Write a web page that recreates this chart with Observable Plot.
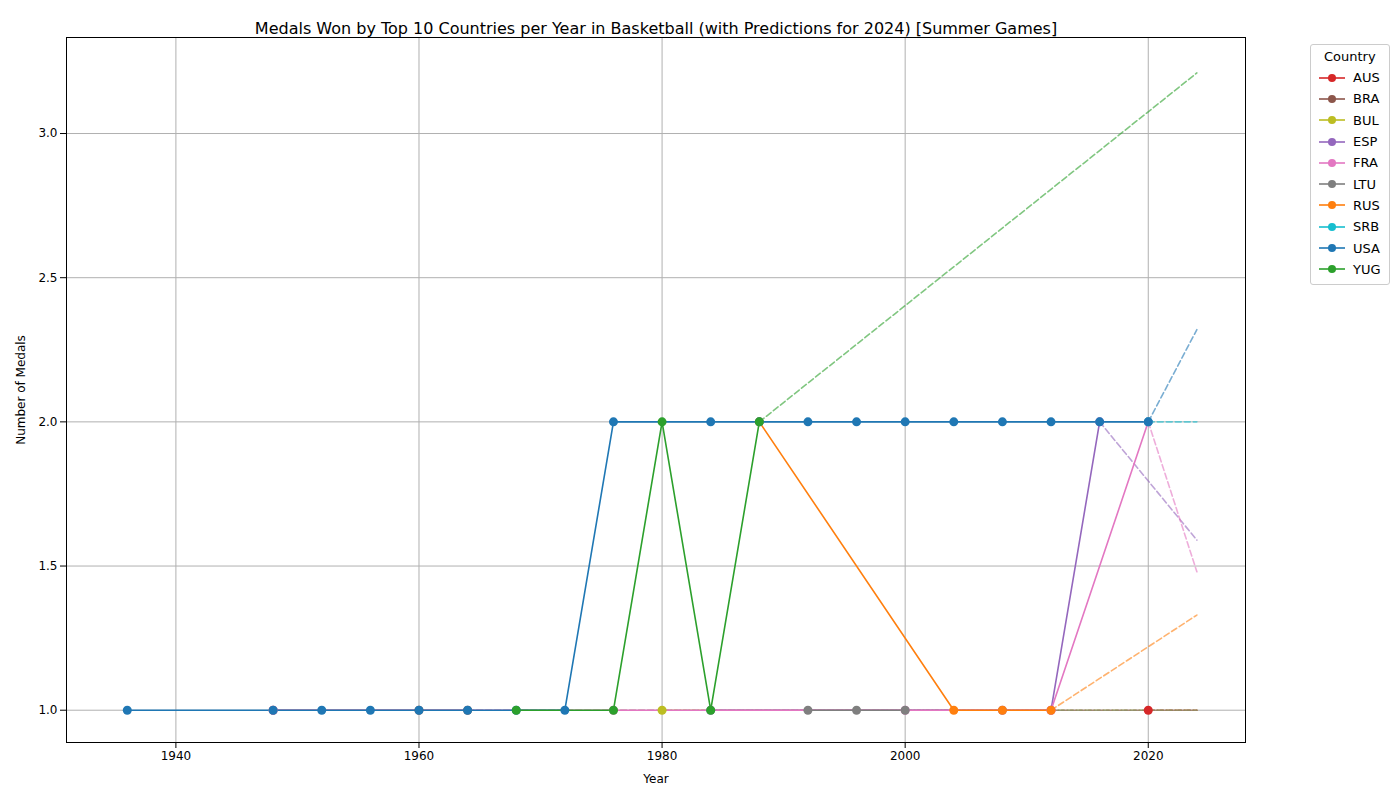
<!DOCTYPE html>
<html><head><meta charset="utf-8">
<script src="https://cdn.jsdelivr.net/npm/d3@7"></script>
<script src="https://cdn.jsdelivr.net/npm/@observablehq/plot@0.6"></script>
<style>
body{margin:0;background:#fff;font-family:"DejaVu Sans",sans-serif}
#wrap{position:relative;width:1400px;height:800px}
#legend{position:absolute;left:1310px;top:44px;border:1px solid #ccc;border-radius:3px;padding:4px 8px;font-size:13px;background:#fff}
#legend .t{text-align:center;margin-bottom:3px}
#legend .r{display:flex;align-items:center;height:21.3px}
#legend svg{margin-right:8px}
</style></head><body>
<div id="wrap"><div id="chart"></div><div id="legend"><div class="t">Country</div></div></div>
<script>
const countries = ["AUS","BRA","BUL","ESP","FRA","LTU","RUS","SRB","USA","YUG"]
const colors = ["#d62728","#8c564b","#bcbd22","#9467bd","#e377c2","#7f7f7f","#ff7f0e","#17becf","#1f77b4","#2ca02c"]
const years = {
  AUS: [2020], BRA: [1948,1960,1964], BUL: [1980], ESP: [1984,2008,2012,2016],
  FRA: [1948,1976,2000,2012,2020], LTU: [1992,1996,2000], RUS: [1988,2004,2008,2012],
  SRB: [2020], USA: [1936,1948,1952,1956,1960,1964,1968,1972,1976,1984,1988,1992,1996,2000,2004,2008,2012,2016,2020],
  YUG: [1968,1976,1980,1984,1988]
}
const medals = {
  AUS: [1], BRA: [1,1,1], BUL: [1], ESP: [1,1,1,2], FRA: [1,1,1,1,2], LTU: [1,1,1],
  RUS: [2,1,1,1], SRB: [2], USA: [1,1,1,1,1,1,1,1,2,2,2,2,2,2,2,2,2,2,2],
  YUG: [1,1,2,1,2]
}
const pred2024 = {AUS:1, BRA:1, BUL:1, ESP:1.59, FRA:1.48, LTU:1, RUS:1.33, SRB:2, USA:2.32, YUG:3.21}

const rows = countries.flatMap(c => years[c].map((y,i) => ({country:c, year:y, medals:medals[c][i]})))
const preds = countries.flatMap(c => {
  const n = years[c].length - 1
  return [{country:c, year:years[c][n], medals:medals[c][n]}, {country:c, year:2024, medals:pred2024[c]}]
})
const color = {domain: countries, range: colors}

const chart = Plot.plot({
  width: 1400, height: 790,
  marginLeft: 66, marginRight: 155, marginTop: 37, marginBottom: 48,
  style: {fontFamily: "DejaVu Sans", fontSize: "12px", color: "#000"},
  x: {domain: [1931, 2028], ticks: [1940,1960,1980,2000,2020], tickFormat: d => String(d), label: "Year", labelAnchor: "center", labelOffset: 40, tickSize: 4},
  y: {domain: [0.888, 3.333], ticks: [1,1.5,2,2.5,3], tickFormat: ".1f", label: "Number of Medals", labelAnchor: "center", labelOffset: 50, tickSize: 4},
  color,
  marks: [
    Plot.gridX([1940,1960,1980,2000,2020], {stroke: "#b0b0b0", strokeOpacity: 1}),
    Plot.gridY([1,1.5,2,2.5,3], {stroke: "#b0b0b0", strokeOpacity: 1}),
    Plot.axisX({ticks: [1940,1960,1980,2000,2020], tickFormat: d => String(d), label: "Year", labelAnchor: "center", labelArrow: "none", labelOffset: 40}),
    Plot.axisY({ticks: [1,1.5,2,2.5,3], tickFormat: ".1f", label: "Number of Medals", labelAnchor: "center", labelArrow: "none", labelOffset: 50}),
    Plot.line(preds, {x: "year", y: "medals", z: "country", stroke: "country", strokeDasharray: "6,3", strokeWidth: 1.6, strokeOpacity: 0.6}),
    Plot.line(rows, {x: "year", y: "medals", z: "country", stroke: "country", strokeWidth: 1.6}),
    Plot.dot(rows, {x: "year", y: "medals", fill: "country", r: 4.5}),
    Plot.frame({stroke: "#000"}),
    Plot.text(["Medals Won by Top 10 Countries per Year in Basketball (with Predictions for 2024) [Summer Games]"], {frameAnchor: "top", dy: -15, fontSize: 16, textAnchor: "middle"})
  ]
})
document.getElementById("chart").append(chart)

const lg = d3.select("#legend")
countries.forEach((c,i) => {
  const r = lg.append("div").attr("class","r")
  const s = r.append("svg").attr("width",26).attr("height",10)
  s.append("line").attr("x1",0).attr("x2",26).attr("y1",5).attr("y2",5).attr("stroke",colors[i]).attr("stroke-width",1.6)
  s.append("circle").attr("cx",13).attr("cy",5).attr("r",4).attr("fill",colors[i])
  r.append("span").text(c)
})
</script>
</body></html>
